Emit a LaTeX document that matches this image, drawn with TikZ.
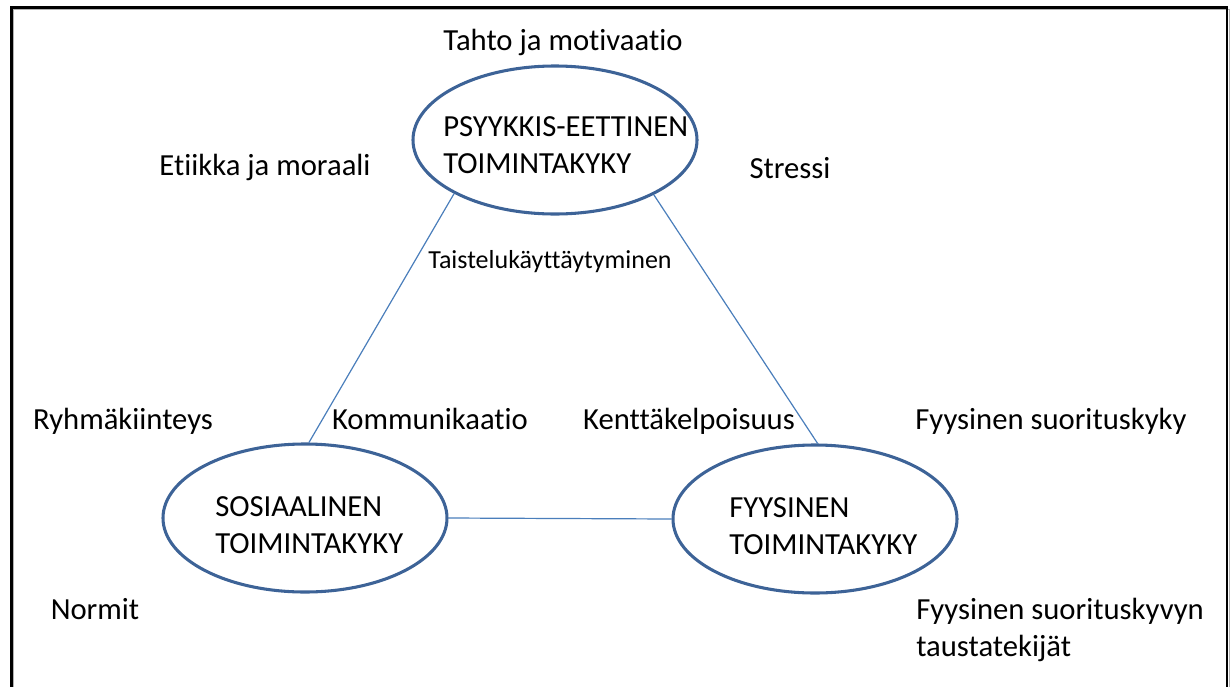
\documentclass[tikz,border=0pt]{standalone}
\usepackage{fontspec}
\setmainfont{Carlito}[RawFeature=-liga]
\usetikzlibrary{shapes.geometric}
\definecolor{ringblue}{HTML}{3D6397}
\definecolor{linkblue}{HTML}{4A7EBB}
\tikzset{
  ring/.style={ellipse, draw=ringblue, line width=2.3pt, minimum width=213pt, minimum height=111pt, inner sep=0pt},
  link/.style={draw=linkblue, line width=0.9pt},
  lbl/.style={font=\fontsize{23}{28}\selectfont, inner sep=0pt},
  small/.style={font=\fontsize{19.5}{23}\selectfont, inner sep=0pt},
  core/.style={font=\fontsize{23}{28}\selectfont, inner sep=0pt, align=left, anchor=west},
}
\begin{document}
\begin{tikzpicture}[x=0.75pt, y=-0.75pt]
  \useasboundingbox (0,0) rectangle (1232,686);
  \begin{scope}
    \clip (0,0) rectangle (1232,686);
    % frame
    \draw[gray!60, line width=1.2pt] (13.5,9.5) rectangle (1229.5,720);
    \draw[black, line width=1.6pt] (11.5,7.5) rectangle (1227,720);
  \end{scope}

  % the three areas
  \node[ring] (psy) at (555,140) {};
  \node[ring] (sos) at (305,518) {};
  \node[ring] (fyy) at (815,519) {};

  \node[core] (psyt) at (443,145) {PSYYKKIS-EETTINEN\\TOIMINTAKYKY};
  \node[core] (sost) at (215,525) {SOSIAALINEN\\TOIMINTAKYKY};
  \node[core] (fyyt) at (729,526) {FYYSINEN\\TOIMINTAKYKY};

  % connections
  \draw[link] (psy.208) -- (sos.87);
  \draw[link] (psy.331) -- (fyy.88);
  \draw[link] (sos.east) -- (fyy.west);

  % factors
  \node[lbl] (tahto) at (563,42) {Tahto ja motivaatio};
  \node[lbl] (etiikka) at (265,167) {Etiikka ja moraali};
  \node[lbl] (stressi) at (790,168) {Stressi};
  \node[small] (taistelu) at (550,262) {Taistelukäyttäytyminen};
  \node[lbl] (ryhma) at (123,421) {Ryhmäkiinteys};
  \node[lbl] (komm) at (430,419) {Kommunikaatio};
  \node[lbl] (kentta) at (689,421) {Kenttäkelpoisuus};
  \node[lbl] (suor) at (1051,421) {Fyysinen suorituskyky};
  \node[lbl] (normit) at (95,609) {Normit};
  \node[core] (tausta) at (916,630) {Fyysinen suorituskyvyn\\taustatekijät};
\end{tikzpicture}
\end{document}
